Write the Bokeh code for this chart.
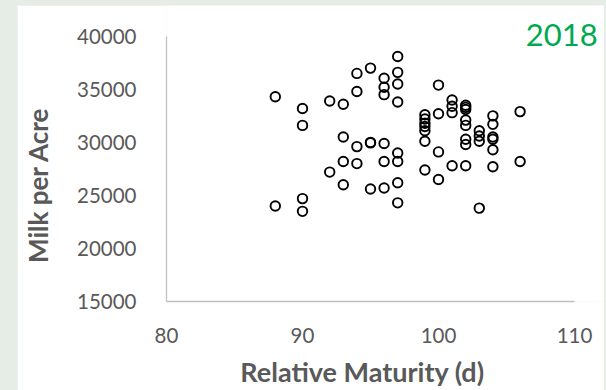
from bokeh.plotting import figure
from bokeh.models import Range1d, FixedTicker, Label, Spacer
from bokeh.layouts import row, column
from bokeh.embed import file_html
from bokeh.resources import INLINE

# Relative maturity (days) and milk per acre, 2018
rm = [88, 88,
      90, 90, 90, 90,
      92, 92,
      93, 93, 93, 93,
      94, 94, 94, 94,
      95, 95, 95, 95,
      96, 96, 96, 96, 96, 96,
      97, 97, 97, 97, 97, 97, 97, 97,
      99, 99, 99, 99, 99, 99, 99,
      100, 100, 100, 100,
      101, 101, 101, 101,
      102, 102, 102, 102, 102, 102, 102, 102,
      103, 103, 103, 103,
      104, 104, 104, 104, 104, 104,
      106, 106]
milk = [34300, 24000,
        33200, 31600, 24700, 23500,
        33900, 27200,
        33600, 30500, 28200, 26000,
        36500, 34800, 29600, 28000,
        37000, 30000, 29950, 25600,
        36050, 35200, 34500, 29900, 28200, 25700,
        38100, 36600, 35500, 33800, 29000, 28200, 26200, 24300,
        32600, 32200, 31800, 31500, 31100, 30100, 27400,
        35400, 32700, 29100, 26500,
        34000, 33400, 32800, 27800,
        33500, 33300, 33100, 32100, 31600, 30300, 29800, 27800,
        31100, 30600, 30100, 23800,
        32500, 31700, 30500, 30300, 29300, 27700,
        32900, 28200]

x_ticks = [80, 90, 100, 110]
y_ticks = [15000, 20000, 25000, 30000, 35000, 40000]
x_bounds = (80, 110)
y_bounds = (15000, 40000)
x_title = "Relative Maturity (d)"
y_title = "Milk per Acre"
year = "2018"

FONT = "Lato"
TICK_COLOR = "#595959"
AXIS_LINE = "#bfbfbf"
NBSP = "\u00a0"

# frame: 149..587 px wide (80..110 over 408 px), 0..298 px tall (15000..40000 over 267 px)
x_end = x_bounds[0] + (x_bounds[1] - x_bounds[0]) * 438 / 408
y_end = y_bounds[1] + (y_bounds[1] - y_bounds[0]) * 31 / 267

p = figure(width=587, height=385, output_backend="svg", toolbar_location=None,
           x_range=Range1d(x_bounds[0], x_end), y_range=Range1d(y_bounds[0], y_end),
           min_border_left=149, min_border_right=0, min_border_top=0,
           min_border_bottom=87, border_fill_color="white",
           background_fill_color="white", outline_line_color=None)

p.scatter(rm, milk, marker="circle", size=9.5, fill_color=None,
          line_color="black", line_width=1.9)

p.xgrid.grid_line_color = None
p.ygrid.grid_line_color = None

for ax in (p.xaxis[0], p.yaxis[0]):
    ax.axis_line_color = AXIS_LINE
    ax.axis_line_width = 1.3
    ax.major_tick_line_color = None
    ax.minor_tick_line_color = None
    ax.major_label_text_font = FONT
    ax.major_label_text_font_size = "20.5px"
    ax.major_label_text_color = TICK_COLOR
    ax.axis_label_text_font = FONT
    ax.axis_label_text_font_style = "bold"
    ax.axis_label_text_color = TICK_COLOR

p.xaxis[0].bounds = x_bounds
p.yaxis[0].bounds = y_bounds
p.xaxis[0].axis_label_text_font_size = "27px"
p.yaxis[0].axis_label_text_font_size = "26px"
p.xaxis[0].ticker = FixedTicker(ticks=x_ticks)
p.yaxis[0].ticker = FixedTicker(ticks=y_ticks)
p.xaxis[0].axis_label = x_title + NBSP * 7
p.yaxis[0].axis_label = y_title + NBSP * 10
p.xaxis[0].major_label_standoff = 20
p.yaxis[0].major_label_standoff = 24
p.xaxis[0].axis_label_standoff = 9
p.yaxis[0].axis_label_standoff = 20

p.add_layout(Label(x=111.7, y=40100, text=year, text_font=FONT,
                   text_font_size="31px", text_color="#00a94f",
                   text_align="right", text_baseline="alphabetic"))

layout = row(Spacer(width=17, height=390),
             column(Spacer(width=587, height=5), p),
             Spacer(width=2, height=390),
             styles={"background-color": "#e6ece6"})

open("out.html", "w").write(file_html(layout, INLINE))
